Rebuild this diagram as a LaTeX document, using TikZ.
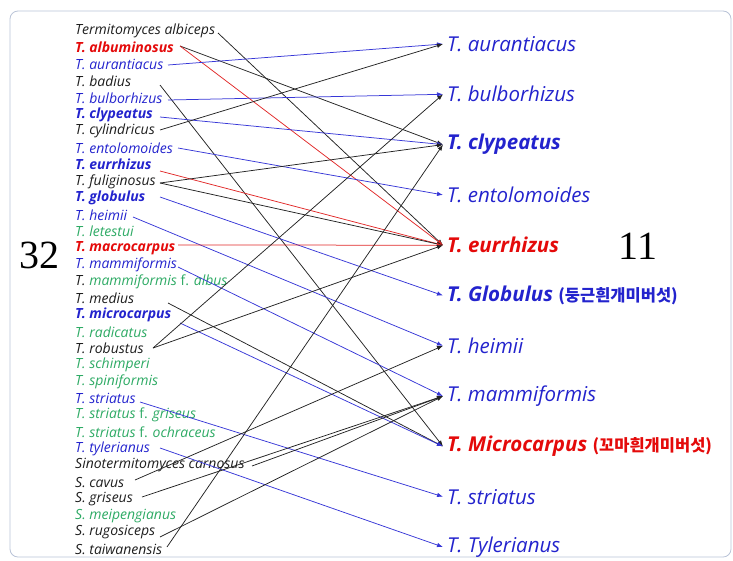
\documentclass[tikz,border=0pt]{standalone}
\usepackage{fontspec}
\usetikzlibrary{arrows.meta}
\newfontfamily\lf{Open Sans}
\newfontfamily\kr{Noto Sans CJK KR}
\newfontfamily\numf{Liberation Serif}
\definecolor{cB}{RGB}{35,35,205}
\definecolor{cG}{RGB}{45,170,100}
\definecolor{cR}{RGB}{228,10,10}
\definecolor{cK}{RGB}{30,30,30}
\definecolor{lB}{RGB}{55,55,215}
\definecolor{lR}{RGB}{225,40,40}
\definecolor{lK}{RGB}{35,35,35}
\definecolor{frame}{RGB}{185,195,215}
\begin{document}
\begin{tikzpicture}[x=1pt,y=-1pt,
  lab/.style={anchor=west,inner sep=0pt,font=\lf\itshape\fontsize{14}{16}\selectfont},
  blab/.style={lab,font=\lf\bfseries\itshape\fontsize{14}{16}\selectfont},
  rlab/.style={anchor=west,inner xsep=4pt,inner ysep=0pt,font=\lf\itshape\fontsize{20.5}{24}\selectfont,text=cB},
  brlab/.style={rlab,font=\lf\bfseries\itshape\fontsize{20.5}{24}\selectfont},
  conn/.style={line width=0.75pt,-{Latex[length=6pt,width=4.5pt]}},
  cb/.style={conn,lB},
  cr/.style={conn,lR},
  ck/.style={conn,lK},
  num/.style={font=\numf\fontsize{40}{44}\selectfont,text=black}]
\newcommand{\korean}[1]{{\kr\bfseries\upshape\fontsize{16.5}{18}\selectfont #1}}
\useasboundingbox (0,0) rectangle (733,560);
\draw[frame,line width=0.8pt,rounded corners=8pt] (10,11) rectangle (731,557);

% left column
\node[lab,text=cK] (L1) at (75,31.0) {Termitomyces albiceps};
\node[blab,text=cR] (L2) at (75,47.7) {T. albuminosus};
\node[lab,text=cB] (L3) at (75,64.4) {T. aurantiacus};
\node[lab,text=cK] (L4) at (75,81.1) {T. badius};
\node[lab,text=cB] (L5) at (75,97.8) {T. bulborhizus};
\node[blab,text=cB] (L6) at (75,114.6) {T. clypeatus};
\node[lab,text=cK] (L7) at (75,131.3) {T. cylindricus};
\node[lab,text=cB] (L8) at (75,148.0) {T. entolomoides};
\node[blab,text=cB] (L9) at (75,164.7) {T. eurrhizus};
\node[lab,text=cK] (L10) at (75,181.4) {T. fuliginosus};
\node[blab,text=cB] (L11) at (75,198.1) {T. globulus};
\node[lab,text=cB] (L12) at (75,214.8) {T. heimii};
\node[lab,text=cG] (L13) at (75,231.5) {T. letestui};
\node[blab,text=cR] (L14) at (75,248.2) {T. macrocarpus};
\node[lab,text=cB] (L15) at (75,264.9) {T. mammiformis};
\node[lab,text=cG] (L16) at (75,281.7) {\textcolor{cK}{T.} mammiformis \textup{f.} albus};
\node[lab,text=cK] (L17) at (75,298.4) {T. medius};
\node[blab,text=cB] (L18) at (75,315.1) {T. microcarpus};
\node[lab,text=cG] (L19) at (75,331.8) {T. radicatus};
\node[lab,text=cK] (L20) at (75,348.5) {T. robustus};
\node[lab,text=cG] (L21) at (75,365.2) {T. schimperi};
\node[lab,text=cG] (L22) at (75,381.9) {T. spiniformis};
\node[lab,text=cB] (L23) at (75,398.6) {T. striatus};
\node[lab,text=cG] (L24) at (75,415.3) {T. striatus \textup{f.} griseus};
\node[lab,text=cG] (L25) at (75,432.0) {T. striatus \textup{f.} ochraceus};
\node[lab,text=cB] (L26) at (75,448.8) {T. tylerianus};
\node[lab,text=cK] (L27) at (75,465.5) {Sinotermitomyces carnosus};
\node[lab,text=cK] (L28) at (75,482.2) {S. cavus};
\node[lab,text=cK] (L29) at (75,498.9) {S. griseus};
\node[lab,text=cG] (L30) at (75,515.6) {S. meipengianus};
\node[lab,text=cK] (L31) at (75,532.3) {S. rugosiceps};
\node[lab,text=cK] (L32) at (75,549.0) {S. taiwanensis};

% right column
\node[rlab] (R1) at (443,44.0) {T. aurantiacus};
\node[rlab] (R2) at (443,94.3) {T. bulborhizus};
\node[brlab] (R3) at (443,144.6) {T. clypeatus};
\node[rlab] (R4) at (443,194.9) {T. entolomoides};
\node[brlab,text=cR] (R5) at (443,245.2) {T. eurrhizus};
\node[brlab] (R6) at (443,295.5) {T. Globulus \korean{(둥근흰개미버섯)}};
\node[rlab] (R7) at (443,345.8) {T. heimii};
\node[rlab] (R8) at (443,396.1) {T. mammiformis};
\node[brlab,text=cR] (R9) at (443,446.4) {T. Microcarpus \korean{(꼬마흰개미버섯)}};
\node[rlab] (R10) at (443,496.7) {T. striatus};
\node[rlab] (R11) at (443,547.0) {T. Tylerianus};

\node[num] (n32) at (39,255) {32};
\node[num] (n11) at (638,246) {11};

% connector start points
\coordinate (s1) at (218,33);
\coordinate (s2) at (180,46);
\coordinate (s3) at (168,65);
\coordinate (s4) at (160,85);
\coordinate (s5) at (168,100);
\coordinate (s6) at (160,117);
\coordinate (s7) at (160,130);
\coordinate (s8) at (178,148);
\coordinate (s9) at (160,171);
\coordinate (s10) at (160,183);
\coordinate (s11) at (160,197);
\coordinate (s12) at (133,217);
\coordinate (s14) at (178,245);
\coordinate (s15) at (178,267);
\coordinate (s17) at (168,303);
\coordinate (s18) at (180,323);
\coordinate (s20) at (153,348);
\coordinate (s23) at (140,402);
\coordinate (s26) at (160,448);
\coordinate (s27) at (252,466);
\coordinate (s28) at (135,480);
\coordinate (s29) at (142,497);
\coordinate (s31) at (160,537);
\coordinate (s32) at (167,547);

% connectors
\draw[ck] (s1) -- (R5.west);
\draw[ck] (s2) -- (R3.west);
\draw[cr] (s2) -- (R5.west);
\draw[cb] (s3) -- (R1.west);
\draw[ck] (s4) -- (R9.west);
\draw[cb] (s5) -- (R2.west);
\draw[cb] (s6) -- (R3.west);
\draw[ck] (s7) -- (R1.west);
\draw[cb] (s8) -- (R4.west);
\draw[cr] (s9) -- (R5.west);
\draw[ck] (s10) -- (R3.west);
\draw[ck] (s10) -- (R5.west);
\draw[cb] (s11) -- (R6.west);
\draw[cb] (s12) -- (R7.west);
\draw[cr] (s14) -- (R5.west);
\draw[cb] (s15) -- (R8.west);
\draw[ck] (s17) -- (R9.west);
\draw[cb] (s18) -- (R9.west);
\draw[ck] (s20) -- (R2.west);
\draw[ck] (s20) -- (R5.west);
\draw[cb] (s23) -- (R10.west);
\draw[cb] (s26) -- (R11.west);
\draw[ck] (s27) -- (R8.west);
\draw[ck] (s28) -- (R7.west);
\draw[ck] (s29) -- (R8.west);
\draw[ck] (s31) -- (R8.west);
\draw[ck] (s32) -- (R3.west);
\end{tikzpicture}
\end{document}
